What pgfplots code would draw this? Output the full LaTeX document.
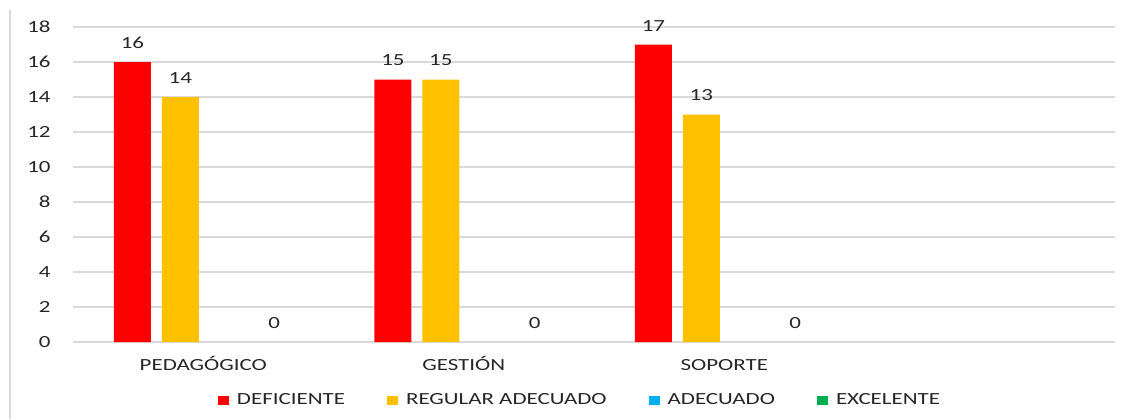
\documentclass[border=0pt]{standalone}
\usepackage{fontspec}
\setmainfont{Carlito}[FakeStretch=1.35]
\usepackage{pgfplots}
\pgfplotsset{compat=1.18}
\definecolor{cdef}{HTML}{FF0000}
\definecolor{creg}{HTML}{FFC000}
\definecolor{cade}{HTML}{00B0F0}
\definecolor{cexc}{HTML}{00B050}
\definecolor{gridgray}{HTML}{D9D9D9}
\definecolor{txt}{HTML}{262626}
\newcommand{\chartfont}{\fontsize{8.5}{10}\selectfont}
\begin{document}
\begin{tikzpicture}
\useasboundingbox (0pt,0pt) rectangle (566.5pt,209.5pt);
\draw[gridgray, line width=1pt] (4.75pt,0pt) -- (4.75pt,204.5pt);
\begin{axis}[
    at={(36.5pt,38.5pt)}, anchor=south west,
    scale only axis, width=521pt, height=157.5pt,
    ybar,
    bar width=0.142,
    xmin=-0.5, xmax=3.5,
    ymin=0, ymax=18,
    ytick={0,2,...,18},
    xtick={0,1,2},
    xticklabels={PEDAGÓGICO, GESTIÓN, SOPORTE},
    axis line style={draw=none},
    tick style={draw=none},
    ymajorgrids,
    grid style={gridgray, line width=0.7pt},
    /pgf/number format/assume math mode=true,
    tick label style={font=\chartfont, text=txt},
    y tick label style={xshift=-7.7pt},
    x tick label style={anchor=base, yshift=-9.9pt},
    nodes near coords,
    every node near coord/.append style={font=\chartfont, text=txt, yshift=3.2pt},
    legend image code/.code={\fill[#1,draw=none] (0pt,-2.3pt) rectangle (5.5pt,2.3pt);
        \path (0pt,0pt) -- (7.5pt,0pt);},
    legend style={at={(0.4875,-0.185)}, anchor=center, draw=none,
        font=\chartfont, text=txt,
        /tikz/every even column/.append style={column sep=19pt}},
    legend columns=4,
]
\addplot[fill=cdef, draw=none, bar shift=-0.272] coordinates {(0,16) (1,15) (2,17)};
\addlegendentry{DEFICIENTE}
\addplot[fill=creg, draw=none, bar shift=-0.088] coordinates {(0,14) (1,15) (2,13)};
\addlegendentry{REGULAR ADECUADO}
\addlegendimage{fill=cade, draw=none}
\addlegendentry{ADECUADO}
\addlegendimage{fill=cexc, draw=none}
\addlegendentry{EXCELENTE}
\addplot[fill=none, draw=none, bar shift=0.272, forget plot] coordinates {(0,0) (1,0) (2,0)};
\end{axis}
\end{tikzpicture}
\end{document}
